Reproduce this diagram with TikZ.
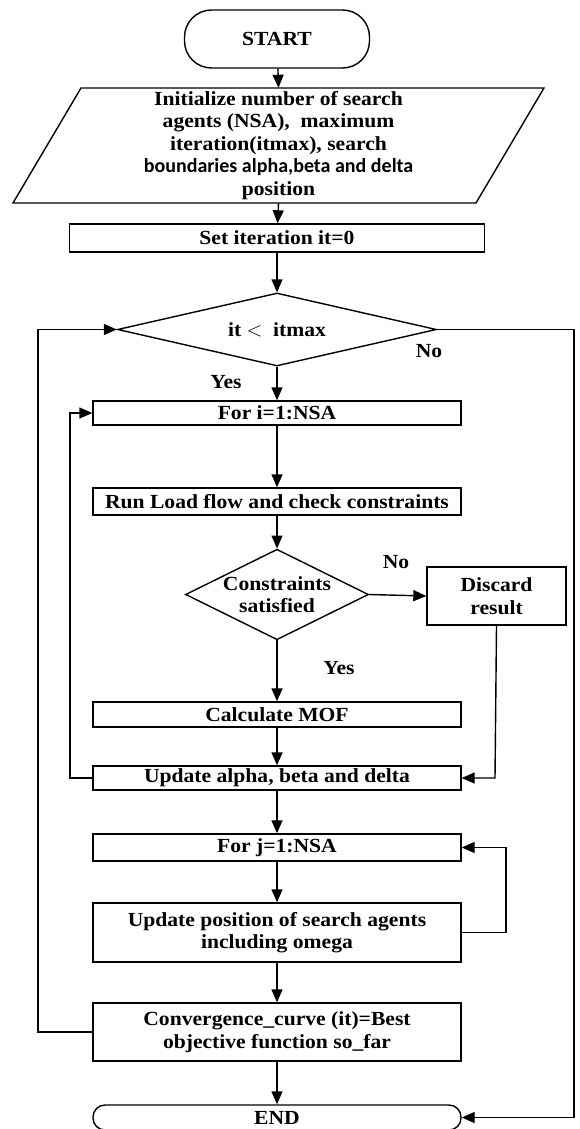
\documentclass[tikz,border=0pt]{standalone}
\usepackage{fontspec}
\setmainfont{Liberation Serif}[FakeStretch=1.08]
\newfontfamily\calib{Carlito}
\usetikzlibrary{arrows.meta,shapes.geometric}
\begin{document}
\begin{tikzpicture}[x=1pt,y=-1pt,
  every node/.style={font=\fontsize{20}{22.5}\selectfont\bfseries, align=center, inner sep=0pt},
  box/.style={draw, line width=1.4pt, minimum width=368, minimum height=25},
  dec/.style={draw, diamond, line width=1.4pt, aspect=2},
  lbl/.style={},
  conn/.style={line width=1.4pt},
  arr/.style={line width=1.4pt, -{Triangle[length=13pt,width=11pt]}}
]
\useasboundingbox (0,0) rectangle (579,1129);

\node[box, minimum width=185, minimum height=58, rounded corners=27] (start) at (277,39) {START};
\draw[line width=1.4pt] (81,88) -- (544,88) -- (476,203) -- (13,203) -- cycle;
\node[minimum width=531, minimum height=115] (init) at (278.5,145.5)
  {Initialize number of search\\agents (NSA),\ \ maximum\\iteration(itmax), search\\\calib boundaries alpha,beta and delta\\position};
\node[box, minimum width=415, minimum height=28] (set) at (277,238) {Set iteration it=0};
\node[dec, minimum width=319, minimum height=73] (dec1) at (277,329.5) {it $<$\ \ itmax};
\node[box, minimum height=24] (fori) at (277,413) {For i=1:NSA};
\node[box, minimum height=27] (run) at (277,501.5) {Run Load flow and check constraints};
\node[dec, minimum width=183, minimum height=85] (dec2) at (277,594.5) {Constraints\\satisfied};
\node[box, minimum width=139, minimum height=58] (disc) at (496.5,596) {Discard\\result};
\node[box, minimum height=25] (mof) at (277,714.5) {Calculate MOF};
\node[box, minimum height=24] (upd) at (277,778) {Update alpha, beta and delta};
\node[box, minimum height=27] (forj) at (277,847.5) {For j=1:NSA};
\node[box, minimum height=59] (updpos) at (277,932.5) {Update position of search agents\\including omega};
\node[box, minimum height=58] (conv) at (277,1032) {Convergence\_curve (it)=Best\\objective function so\_far};
\node[box, minimum height=25, rounded corners=12] (end) at (277,1117.5) {END};

\node[lbl] (yes1) at (226,382) {Yes};
\node[lbl] (no1) at (429,351) {No};
\node[lbl] (no2) at (396,562) {No};
\node[lbl] (yes2) at (339,668) {Yes};

\coordinate (cL) at (38,1032);
\coordinate (cLt) at (38,329.5);
\coordinate (cR) at (574,329.5);
\coordinate (cRb) at (574,1117.5);
\coordinate (iL) at (70,778);
\coordinate (iLt) at (70,413);
\coordinate (dB) at (495,778);
\coordinate (jR) at (506,932.5);
\coordinate (jRt) at (506,847.5);

\draw[arr] (start) -- (init.north);
\draw[arr] (init.south) -- (set);
\draw[arr] (set) -- (dec1);
\draw[arr] (dec1) -- (fori);
\draw[arr] (fori) -- (run);
\draw[arr] (run) -- (dec2);
\draw[arr] (dec2) -- (mof);
\draw[arr] (dec2.east) -- (disc.west);
\draw[arr] (disc.south) -- (dB) -- (upd.east);
\draw[arr] (mof) -- (upd);
\draw[arr] (upd.west) -- (iL) -- (iLt) -- (fori.west);
\draw[arr] (upd) -- (forj);
\draw[arr] (forj) -- (updpos);
\draw[arr] (updpos.east) -- (jR) -- (jRt) -- (forj.east);
\draw[arr] (updpos) -- (conv);
\draw[arr] (conv) -- (end);
\draw[arr] (conv.west) -- (cL) -- (cLt) -- (dec1.west);
\draw[arr] (dec1.east) -- (cR) -- (cRb) -- (end.east);
\end{tikzpicture}
\end{document}
